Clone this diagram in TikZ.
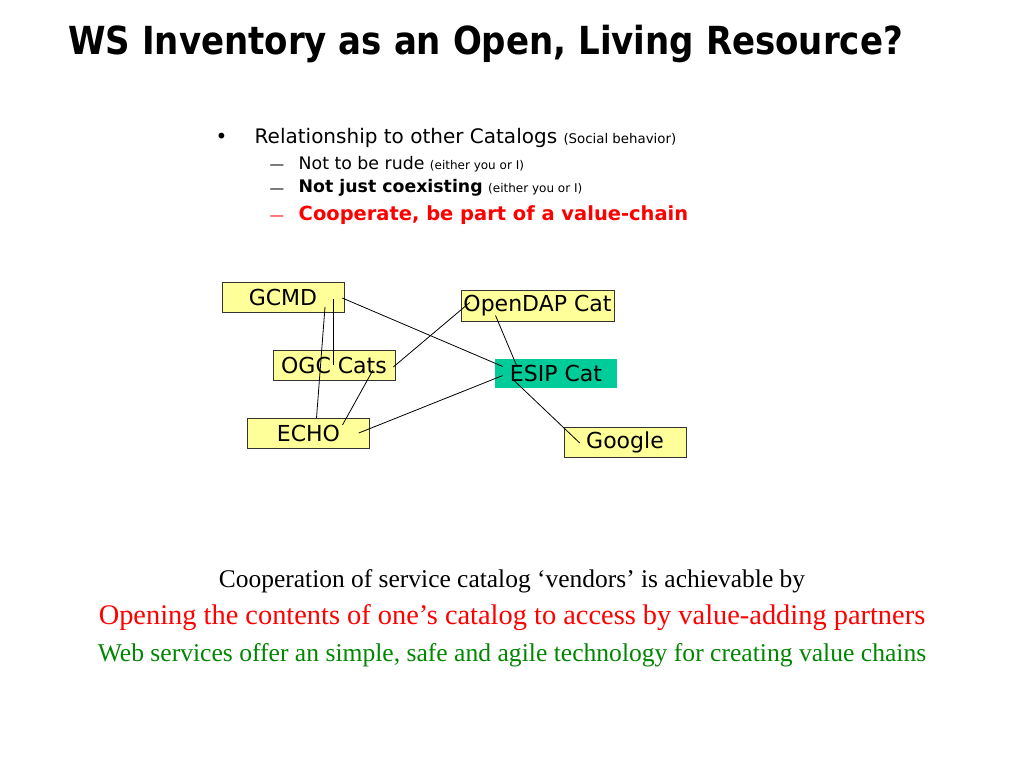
\documentclass[tikz,border=0pt]{standalone}
\usepackage{fontspec}
\setmainfont{Liberation Serif}
\newfontfamily\verd{DejaVu Sans}
\definecolor{boxyellow}{RGB}{255,255,153}
\definecolor{esipgreen}{RGB}{0,204,153}
\definecolor{slidered}{RGB}{255,0,0}
\definecolor{slidegreen}{RGB}{0,134,0}
\tikzset{
  catbox/.style={draw=black!80, fill=boxyellow, minimum width=91.5pt, minimum height=22.5pt,
    inner sep=0pt, font=\verd\fontsize{16.5}{18}\selectfont},
  item/.style={anchor=west, font=\verd\fontsize{13}{15}\selectfont},
  link/.style={black, line width=0.6pt}
}
\begin{document}
\begin{tikzpicture}[x=0.75pt,y=-0.75pt]
  \useasboundingbox (0,0) rectangle (1024,768);
  \node [anchor=west, inner sep=0pt, font=\verd\bfseries\fontsize{29}{32}\selectfont] (title) at (68,44) {\scalebox{0.88}[1]{WS Inventory as an Open, Living Resource?}};
  % bullet list
  \node [item, font=\verd\fontsize{15}{17}\selectfont] (b1) at (211,138) {•};
  \node [item, font=\verd\fontsize{15}{17}\selectfont] (t1) at (250,138) {Relationship to other Catalogs {\fontsize{10}{12}\selectfont (Social behavior)}};
  \node [item, font=\verd\fontsize{11}{13}\selectfont] (d2) at (265,167) {—};
  \node [item] (t2) at (294,164) {Not to be rude {\fontsize{9}{11}\selectfont (either you or I)}};
  \node [item, font=\verd\fontsize{11}{13}\selectfont] (d3) at (265,191) {—};
  \node [item] (t3) at (294,188) {\textbf{Not just coexisting} {\fontsize{9}{11}\selectfont (either you or I)}};
  \node [item, font=\verd\fontsize{11}{13}\selectfont, text=slidered] (d4) at (265,218) {—};
  \node [item, font=\verd\bfseries\fontsize{14.6}{17}\selectfont, text=slidered] (t4) at (294,215) {Cooperate, be part of a value-chain};
  % catalogs
  \node [catbox] (gcmd) at (283,297) {GCMD};
  \node [catbox, minimum width=114.75pt, minimum height=23.25pt] (opendap) at (537.5,305.5) {OpenDAP Cat};
  \node [catbox] (ogc) at (334,365) {OGC Cats};
  \node [catbox, draw=none, fill=esipgreen, minimum height=21.75pt] (esip) at (556,373.5) {ESIP Cat};
  \node [catbox] (echo) at (308.5,433) {ECHO};
  \node [catbox] (google) at (625,442) {Google};
  \draw [link] ([shift={(-2,1)}]gcmd.east) -- ([shift={(8,-7)}]esip.west);
  \draw [link] ([shift={(42,10)}]gcmd.center) -- ([shift={(8,-15)}]echo.center);
  \draw [link] ([shift={(50,2)}]gcmd.center) -- ([shift={(-1,0)}]ogc.center);
  \draw [link] ([shift={(-2,2)}]ogc.east) -- ([shift={(9,-3)}]opendap.west);
  \draw [link] ([shift={(39,5)}]ogc.center) -- ([shift={(34,-8)}]echo.center);
  \draw [link] ([shift={(-11,0)}]echo.east) -- ([shift={(8,2)}]esip.west);
  \draw [link] ([shift={(-42,10)}]opendap.center) -- ([shift={(-39,-7)}]esip.center);
  \draw [link] ([shift={(-43,6)}]esip.center) -- ([shift={(16,1)}]google.west);
  % bottom lines
  \node [font=\fontsize{19.1}{22}\selectfont] (coop) at (512,581) {Cooperation of service catalog ‘vendors’ is achievable by};
  \node [font=\fontsize{21.3}{24}\selectfont, text=slidered] (open) at (512,618) {Opening the contents of one’s catalog to access by value-adding partners};
  \node [font=\fontsize{19.2}{22}\selectfont, text=slidegreen] (web) at (512,655) {Web services offer an simple, safe and agile technology for creating value chains};
\end{tikzpicture}
\end{document}
